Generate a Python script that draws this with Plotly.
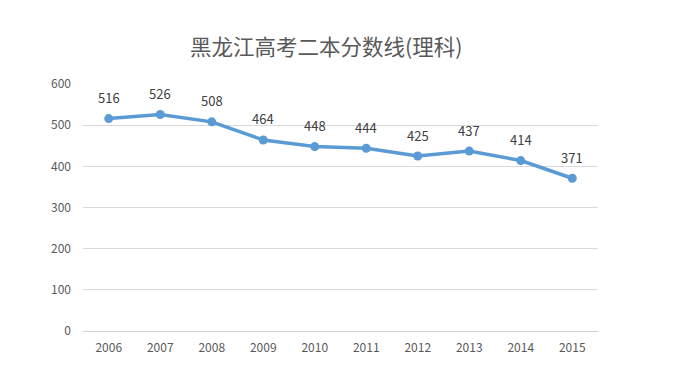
import plotly.graph_objects as go

years = ["2006", "2007", "2008", "2009", "2010", "2011", "2012", "2013", "2014", "2015"]
scores = [516, 526, 508, 464, 448, 444, 425, 437, 414, 371]
y_ticks = [0, 100, 200, 300, 400, 500, 600]

fig = go.Figure()
fig.add_trace(go.Scatter(
    x=years, y=scores, mode="lines+markers",
    line=dict(color="#5B9BD5", width=3.5),
    marker=dict(color="#5B9BD5", size=9),
    cliponaxis=False,
))
for i, v in enumerate(scores):
    fig.add_annotation(x=i, y=v, xref="x", yref="y", text=str(v), showarrow=False, yshift=21,
                       font=dict(family="Noto Sans CJK SC, sans-serif", size=13, color="#404040"))

fig.update_layout(
    width=673, height=384,
    margin=dict(l=75, r=83, t=76, b=61),
    paper_bgcolor="white", plot_bgcolor="white",
    showlegend=False,
    title=dict(text="黑龙江高考二本分数线(理科)", x=0.4725, xanchor="center", xref="paper",
               y=(384 - 39) / 384, yanchor="middle",
               font=dict(family="Noto Sans CJK SC, sans-serif", size=21.5, color="#595959")),
    font=dict(family="Noto Sans CJK SC, sans-serif", size=12, color="#595959"),
)
fig.update_xaxes(type="category", range=[-0.5, 9.5], showgrid=False, showline=False,
                 ticks="", tickfont=dict(size=12, color="#595959"), ticklabelstandoff=8,
                 automargin=False)
fig.update_yaxes(range=[0, 600], tickvals=y_ticks, showgrid=True, gridcolor="#D9D9D9", gridwidth=1,
                 zeroline=True, zerolinecolor="#D0D0D0", zerolinewidth=1, showline=False, ticks="",
                 tickfont=dict(size=12, color="#595959"), ticklabelstandoff=11, automargin=False)
fig.write_html("out.html")
